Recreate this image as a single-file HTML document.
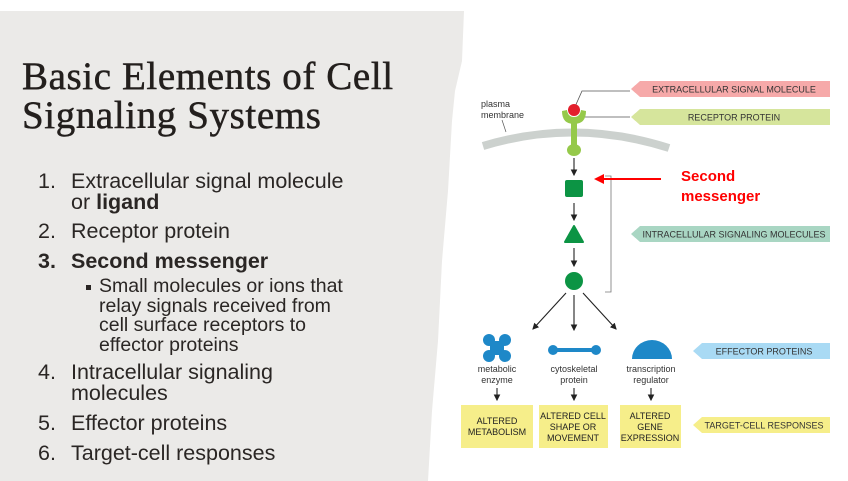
<!DOCTYPE html>
<html><head><meta charset="utf-8"><style>
body{margin:0;width:848px;height:481px;background:#fff;overflow:hidden;position:relative;font-family:"Liberation Sans",Arial,sans-serif}
#panel{position:absolute;left:0;top:11px;width:470px;height:470px;background:#ebeae8;clip-path:polygon(0 0,464px 0,462px 50px,455px 80px,452px 110px,448px 180px,442px 250px,438px 330px,432px 400px,428px 470px,0 470px)}
h1{position:absolute;left:22px;top:57px;margin:0;font-family:"Liberation Serif","DejaVu Serif",serif;font-weight:normal;font-size:39px;line-height:39px;letter-spacing:0.6px;color:#231f1d;-webkit-text-stroke:0.5px #231f1d}
.l{position:absolute;font-size:21.5px;color:#2a2624;line-height:21px;white-space:nowrap}
.n{position:absolute;left:38px}
.t{position:absolute;left:71px}
.s{position:absolute;left:99px;font-size:19.5px;line-height:19.5px;color:#2a2624;white-space:nowrap}
</style></head><body>
<div id="panel"></div>
<h1>Basic Elements of Cell<br>Signaling Systems</h1>
<div class="l n" style="top:171px">1.</div><div class="l t" style="top:171px">Extracellular signal molecule</div>
<div class="l t" style="top:192px">or <b>ligand</b></div>
<div class="l n" style="top:221px">2.</div><div class="l t" style="top:221px">Receptor protein</div>
<div class="l n" style="top:251px;font-weight:bold">3.</div><div class="l t" style="top:251px;font-weight:bold">Second messenger</div>
<div style="position:absolute;left:86px;top:285px;width:5px;height:5px;background:#2a2624"></div>
<div class="s" style="top:277px">Small molecules or ions that<br>relay signals received from<br>cell surface receptors to<br>effector proteins</div>
<div class="l n" style="top:362px">4.</div><div class="l t" style="top:362px">Intracellular signaling</div>
<div class="l t" style="top:383px">molecules</div>
<div class="l n" style="top:413px">5.</div><div class="l t" style="top:413px">Effector proteins</div>
<div class="l n" style="top:443px">6.</div><div class="l t" style="top:443px">Target-cell responses</div>

<svg width="848" height="481" style="position:absolute;left:0;top:0" font-family="Liberation Sans,Arial,sans-serif">
<defs><marker id="a" markerWidth="6" markerHeight="6" refX="5" refY="3" orient="auto"><path d="M0,0L6,3L0,6z" fill="#222"/></marker></defs>
<g font-size="9" fill="#333" text-anchor="middle">
<polygon points="640,81 830,81 830,97 640,97 631,89" fill="#f6a9a9"/><text x="734" y="92.5">EXTRACELLULAR SIGNAL MOLECULE</text>
<polygon points="640,109 830,109 830,125 640,125 631,117" fill="#d6e59c"/><text x="734" y="120.5">RECEPTOR PROTEIN</text>
<polygon points="640,226 830,226 830,242 640,242 631,234" fill="#a9d6c3"/><text x="734" y="237.5">INTRACELLULAR SIGNALING MOLECULES</text>
<polygon points="702,343 830,343 830,359 702,359 693,351" fill="#a9daf4"/><text x="764" y="354.5">EFFECTOR PROTEINS</text>
<polygon points="702,417 830,417 830,433 702,433 693,425" fill="#f6ee8a"/><text x="764" y="428.5">TARGET-CELL RESPONSES</text>
</g>
<text x="481" y="107" font-size="9" fill="#333">plasma</text><text x="481" y="118" font-size="9" fill="#333">membrane</text>
<line x1="502" y1="120" x2="506" y2="132" stroke="#555" stroke-width="0.7"/>
<path d="M483,146 Q575,118 669,148" stroke="#ccd1ce" stroke-width="8" fill="none"/>
<polyline points="574,109 582,91 630,91" stroke="#555" stroke-width="0.8" fill="none"/>
<line x1="585" y1="117" x2="630" y2="117" stroke="#555" stroke-width="0.8"/>
<path d="M562,111 Q562,124 574,124 Q586,124 586,111 L581,110 Q580,117 574,117 Q568,117 567,110z" fill="#95c94a"/>
<rect x="571" y="118" width="6" height="30" fill="#95c94a"/>
<ellipse cx="574" cy="150" rx="7" ry="6" fill="#95c94a"/>
<circle cx="574" cy="110" r="6" fill="#e3202c"/>
<g stroke="#222" stroke-width="1.1" marker-end="url(#a)">
<line x1="574" y1="158" x2="574" y2="175"/><line x1="574" y1="203" x2="574" y2="220"/><line x1="574" y1="248" x2="574" y2="266"/>
<line x1="566" y1="293" x2="533" y2="329"/><line x1="574" y1="295" x2="574" y2="330"/><line x1="583" y1="293" x2="616" y2="329"/>
<line x1="497" y1="388" x2="497" y2="400"/><line x1="574" y1="388" x2="574" y2="400"/><line x1="651" y1="388" x2="651" y2="400"/>
</g>
<rect x="565" y="180" width="18" height="17" rx="2" fill="#0c9444"/>
<polygon points="574,226 583,242 565,242" fill="#0c9444" stroke="#0c9444" stroke-linejoin="round" stroke-width="2"/>
<circle cx="574" cy="281" r="9" fill="#0c9444"/>
<polyline points="605,176 611,176 611,292 605,292" stroke="#777" stroke-width="0.8" fill="none"/>
<line x1="661" y1="179" x2="602" y2="179" stroke="#f00" stroke-width="2"/>
<polygon points="594,179 604,174 604,184" fill="#f00"/>
<text x="681" y="181" font-size="15" font-weight="bold" fill="#f00">Second</text>
<text x="681" y="201" font-size="15" font-weight="bold" fill="#f00">messenger</text>
<g fill="#1e88c8">
<circle cx="489" cy="340" r="6"/><circle cx="505" cy="340" r="6"/><circle cx="489" cy="356" r="6"/><circle cx="505" cy="356" r="6"/><rect x="490" y="341" width="14" height="14"/>
<circle cx="553" cy="350" r="5"/><circle cx="596" cy="350" r="5"/><rect x="553" y="348" width="43" height="4"/>
<path d="M632,359 A20,19 0 0 1 672,359z"/>
</g>
<g font-size="9" fill="#333" text-anchor="middle">
<text x="497" y="372">metabolic</text><text x="497" y="383">enzyme</text>
<text x="574" y="372">cytoskeletal</text><text x="574" y="383">protein</text>
<text x="651" y="372">transcription</text><text x="651" y="383">regulator</text>
</g>
<g fill="#f6ee8a"><rect x="461" y="405" width="72" height="43"/><rect x="539" y="405" width="69" height="43"/><rect x="620" y="405" width="61" height="43"/></g>
<g font-size="9" fill="#222" text-anchor="middle">
<text x="497" y="424">ALTERED</text><text x="497" y="435">METABOLISM</text>
<text x="573" y="419">ALTERED CELL</text><text x="573" y="430">SHAPE OR</text><text x="573" y="441">MOVEMENT</text>
<text x="650" y="419">ALTERED</text><text x="650" y="430">GENE</text><text x="650" y="441">EXPRESSION</text>
</g>
</svg>
</body></html>
